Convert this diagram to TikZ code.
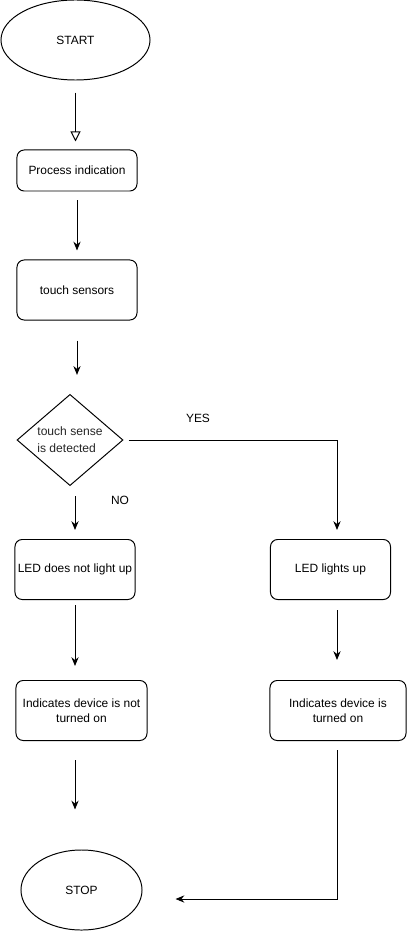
\documentclass[tikz,border=0pt]{standalone}
\usepackage{fontspec}
\setmainfont{Liberation Sans}
\usetikzlibrary{shapes.geometric,arrows.meta}
\begin{document}
\begin{tikzpicture}[x=0.025cm,y=-0.025cm,line width=0.7pt,font=\fontsize{8.5}{10.5}\selectfont,
term/.style={draw,ellipse,inner sep=0pt,minimum height=2cm},
stepbox/.style={draw,rounded corners=0.18cm,minimum width=3cm,minimum height=1.5cm,align=center,inner sep=1pt},
arr/.style={-{Stealth[length=2.2mm,width=1.8mm]}}]
\useasboundingbox (0,0) rectangle (407,931);
\node[term,minimum width=3.725cm] (start) at (75.5,40) {START};
\node[stepbox,minimum height=1.025cm] (proc) at (77,170.5) {Process indication};
\node[stepbox] (sens) at (77,290) {touch sensors};
\node[draw,diamond,minimum width=2.65cm,minimum height=2cm,inner sep=0pt,align=left,text=black!85,font=\fontsize{8.6}{12.2}\selectfont] (dec) at (70,440) {touch sense\\is detected};
\node[stepbox] (nolight) at (75,569.5) {LED does not light up};
\node[stepbox] (light) at (330.5,569.5) {LED lights up};
\node[stepbox,minimum width=3.275cm] (noton) at (81.5,710.5) {Indicates device is not\\turned on};
\node[stepbox,minimum width=3.4cm] (on) at (338,710.5) {Indicates device is\\turned on};
\node[term,minimum width=3.025cm] (stop) at (81.5,890) {STOP};
\node (yes) at (198,418) {YES};
\node (no) at (120,500) {NO};
\coordinate (yesturn) at (337,440);
\coordinate (stopturn) at (337,899);
\draw[-{Triangle[open,length=2.5mm,width=2.5mm]},shorten <=0.3cm,shorten >=0.2cm] (start.south) -- (start.south |- proc.north);
\draw[arr,shorten <=0.225cm,shorten >=0.225cm] (proc.south) -- (sens.north);
\draw[arr,shorten <=0.5cm,shorten >=0.475cm] (sens.south) -- (sens.south |- dec.north);
\draw[arr,shorten <=0.25cm,shorten >=0.225cm] (nolight.north |- dec.south) -- (nolight.north);
\draw[arr,shorten <=0.125cm,shorten >=0.35cm] (nolight.south) -- (nolight.south |- noton.north);
\draw[arr,shorten <=0.125cm,shorten >=0.225cm] (dec.east) -- (yesturn) -- (yesturn |- light.north);
\draw[arr,shorten <=0.25cm,shorten >=0.5cm] (light.south -| yesturn) -- (on.north -| yesturn);
\draw[arr,shorten <=0.475cm,shorten >=1cm] (noton.south -| nolight.south) -- (stop.north -| nolight.south);
\draw[arr,shorten <=0.225cm,shorten >=0.825cm] (on.south -| stopturn) -- (stopturn) -- (stop.east |- stopturn);
\end{tikzpicture}
\end{document}
